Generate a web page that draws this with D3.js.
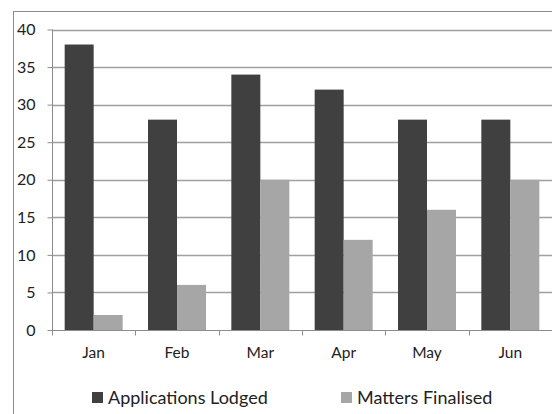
<!DOCTYPE html>
<html><head><meta charset="utf-8">
<script src="https://cdn.jsdelivr.net/npm/d3@7"></script>
<style>body{margin:0;background:#fff}svg{display:block}</style>
</head><body>
<svg id="c" width="552" height="414"></svg>
<script>
const months = ["Jan","Feb","Mar","Apr","May","Jun"];
const seriesNames = ["Applications Lodged","Matters Finalised"];
const lodged = [38,28,34,32,28,28];
const finalised = [2,6,20,12,16,20];
const yTicks = [0,5,10,15,20,25,30,35,40];
const colors = ["#404040","#a6a6a6"];
const font = "Lato, 'Open Sans', sans-serif";

const svg = d3.select("#c");
// outer chart border
svg.append("rect").attr("x",13.5).attr("y",11.5).attr("width",600).attr("height",500)
  .attr("fill","#fff").attr("stroke","#8c8c8c").attr("stroke-width",1);

const pLeft=52, pRight=552, pTop=29.5, pBottom=330;
const x0 = d3.scaleBand().domain(months).range([pLeft,pRight]).padding(0);
const x1 = d3.scaleBand().domain(seriesNames).range([0,x0.bandwidth()]).paddingInner(0).paddingOuter(0.437);
const y = d3.scaleLinear().domain([0,40]).range([pBottom,pTop]);

// gridlines
svg.append("g").selectAll("line").data(yTicks.filter(d=>d>0)).join("line")
  .attr("x1",pLeft).attr("x2",pRight).attr("y1",d=>Math.round(y(d))+0.5).attr("y2",d=>Math.round(y(d))+0.5)
  .attr("stroke","#a0a0a0").attr("stroke-width",1.3);

const data = months.map((m,i)=>({m, vals:[lodged[i],finalised[i]]}));
svg.append("g").selectAll("g").data(data).join("g")
  .attr("transform",d=>`translate(${x0(d.m)},0)`)
  .selectAll("rect").data(d=>d.vals.map((v,j)=>({v,j}))).join("rect")
  .attr("x",d=>x1(seriesNames[d.j])).attr("width",x1.bandwidth())
  .attr("y",d=>y(d.v)).attr("height",d=>pBottom-y(d.v))
  .attr("fill",d=>colors[d.j]);

// y axis
const yAxis = d3.axisLeft(y).tickValues(yTicks).tickSize(5).tickPadding(12);
const gy = svg.append("g").attr("transform",`translate(${pLeft+0.5},0)`).call(yAxis);
gy.select(".domain").attr("stroke","#8c8c8c").attr("d",`M0,${pTop}V${pBottom}`);
gy.selectAll(".tick line").attr("stroke","#8c8c8c");
gy.selectAll("text").attr("font-family",font).attr("font-size",16).attr("fill","#222");

// x axis
const gx = svg.append("g").attr("transform",`translate(0,${pBottom+0.5})`);
gx.append("line").attr("x1",pLeft).attr("x2",pRight).attr("stroke","#8c8c8c");
gx.selectAll("line.t").data(d3.range(months.length+1)).join("line").attr("class","t")
  .attr("x1",i=>Math.round(pLeft+i*x0.step())+0.5).attr("x2",i=>Math.round(pLeft+i*x0.step())+0.5)
  .attr("y1",0).attr("y2",5).attr("stroke","#8c8c8c");
gx.selectAll("text").data(months).join("text")
  .attr("x",d=>x0(d)+x0.bandwidth()/2).attr("y",27).attr("text-anchor","middle")
  .attr("font-family",font).attr("font-size",15.5).attr("fill","#222").text(d=>d);

// legend
const legX = [92,341];
const lg = svg.append("g").selectAll("g").data(seriesNames).join("g")
  .attr("transform",(d,i)=>`translate(${legX[i]},392)`);
lg.append("rect").attr("width",11).attr("height",11).attr("fill",(d,i)=>colors[i]);
lg.append("text").attr("x",16).attr("y",11.5).attr("font-family",font).attr("font-size",18)
  .attr("fill","#222").text(d=>d);
</script>
</body></html>
